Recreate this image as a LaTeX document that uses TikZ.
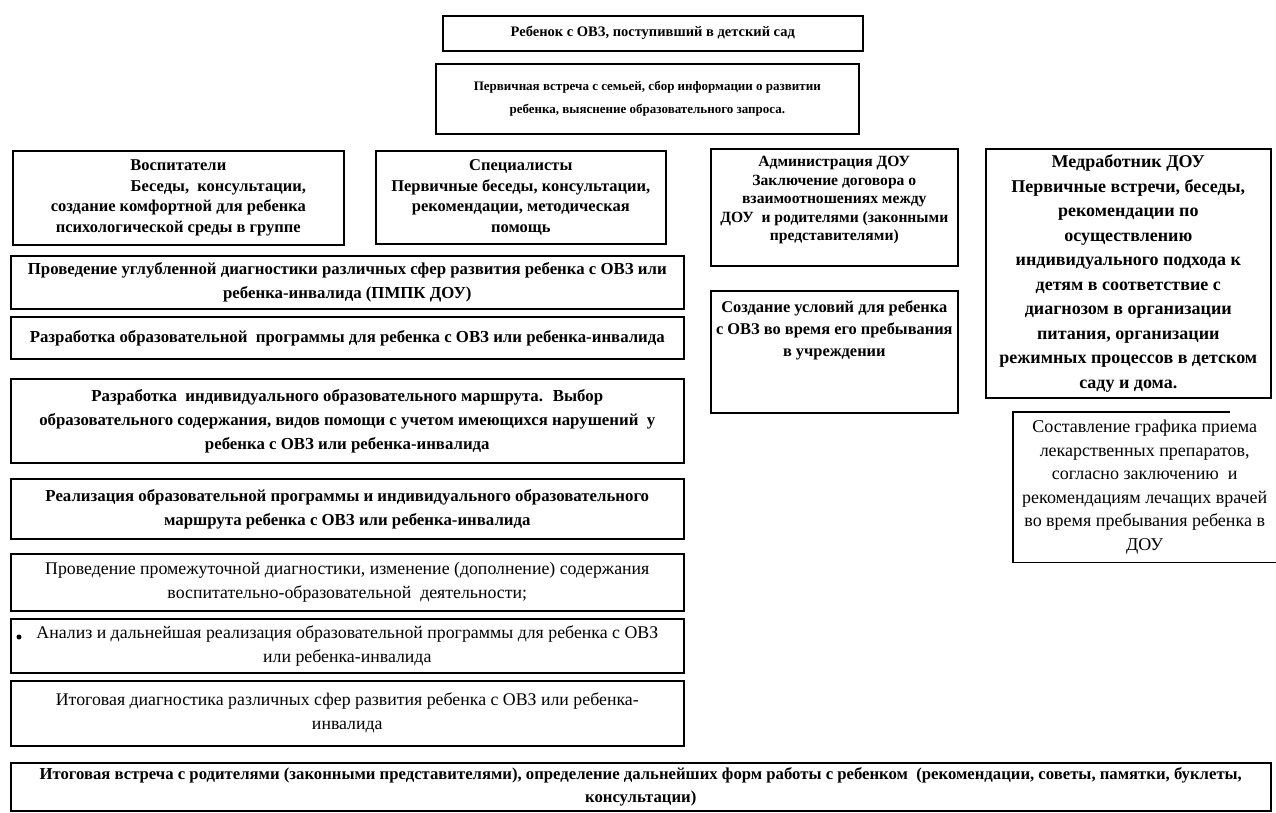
\documentclass[tikz,border=0pt]{standalone}
\usepackage{fontspec}
\setmainfont{Liberation Serif}
\begin{document}
\begin{tikzpicture}[x=1pt,y=-1pt,
  box/.style={draw, line width=1.6pt, inner sep=2pt, align=center, anchor=north west},
  plain/.style={inner sep=0pt, align=center},
  fb1/.style={font=\fontsize{14.5}{23}\selectfont\bfseries},
  fb2/.style={font=\fontsize{13}{23}\selectfont\bfseries},
  fmid/.style={font=\fontsize{16.5}{20.5}\selectfont\bfseries},
  fadm/.style={font=\fontsize{15.6}{18.5}\selectfont\bfseries},
  fmed/.style={font=\fontsize{18}{24.5}\selectfont\bfseries},
  fusl/.style={font=\fontsize{16.4}{22}\selectfont\bfseries},
  fgraf/.style={font=\fontsize{18}{23.5}\selectfont},
  fleft/.style={font=\fontsize{16.8}{24}\selectfont\bfseries},
  fleftr/.style={font=\fontsize{17.8}{24}\selectfont},
  ffin/.style={font=\fontsize{16.7}{23}\selectfont\bfseries},
]
\useasboundingbox (0,0) rectangle (1276,812);

\node[box, fb1, minimum width=420, minimum height=35] (b1) at (442,15)
  {Ребенок с ОВЗ, поступивший в детский сад};
\node[box, fb2, minimum width=423, minimum height=70] (b2) at (435,63)
  {Первичная встреча с семьей, сбор информации о развитии\\ребенка, выяснение образовательного запроса.};

\node[box, fmid, minimum width=331, minimum height=94] (vos) at (12,150)
  {Воспитатели\\\hspace*{80pt}Беседы,~ консультации,\\создание комфортной для ребенка\\психологической среды в группе};
\node[box, fmid, minimum width=290, minimum height=93] (spec) at (375,150)
  {Специалисты\\Первичные беседы, консультации,\\рекомендации, методическая\\помощь};
\node[box, minimum width=247, minimum height=117] (adm) at (710,148) {};
\node[plain, fadm, anchor=north] (admt) at ([yshift=-8pt]adm.north)
  {Администрация ДОУ\\Заключение договора о\\взаимоотношениях между\\ДОУ~ и родителями (законными\\представителями)};
\node[box, fmed, minimum width=285, minimum height=249] (med) at (985,148)
  {Медработник ДОУ\\Первичные встречи, беседы,\\рекомендации по\\осуществлению\\индивидуального подхода к\\детям в соответствие с\\диагнозом в организации\\питания, организации\\режимных процессов в детском\\саду и дома.};
\node[box, minimum width=247, minimum height=122] (usl) at (710,290) {};
\node[plain, fusl, anchor=north] (uslt) at ([yshift=-11pt]usl.north)
  {Создание условий для ребенка\\с ОВЗ во время его пребывания\\в учреждении};

\node[plain, fgraf, anchor=north west, minimum width=263, minimum height=150] (graf) at (1013,412)
  {Составление графика приема\\лекарственных препаратов,\\согласно заключению~ и\\рекомендациям лечащих врачей\\во время пребывания ребенка в\\ДОУ};
\draw[line width=1.2pt] ([xshift=217pt]graf.north west) -- (graf.north west) -- (graf.south west) -- (graf.south east);

\node[box, fleft, minimum width=673, minimum height=53] (l1) at (10,255)
  {Проведение углубленной диагностики различных сфер развития ребенка с ОВЗ или\\ребенка-инвалида (ПМПК ДОУ)};
\node[box, fleft, minimum width=673, minimum height=42] (l2) at (10,316)
  {Разработка образовательной~ программы для ребенка с ОВЗ или ребенка-инвалида};
\node[box, fleft, minimum width=673, minimum height=84] (l3) at (10,378)
  {Разработка~ индивидуального образовательного маршрута.~ Выбор\\образовательного содержания, видов помощи с учетом имеющихся нарушений~ у\\ребенка с ОВЗ или ребенка-инвалида};
\node[box, fleft, minimum width=673, minimum height=60] (l4) at (10,478)
  {Реализация образовательной программы и индивидуального образовательного\\маршрута ребенка с ОВЗ или ребенка-инвалида};
\node[box, fleftr, minimum width=673, minimum height=57] (l5) at (10,553)
  {Проведение промежуточной диагностики, изменение (дополнение) содержания\\воспитательно-образовательной~ деятельности;};
\node[box, fleftr, minimum width=673, minimum height=54] (l6) at (10,618)
  {Анализ и дальнейшая реализация образовательной программы для ребенка с ОВЗ\\или ребенка-инвалида};
\fill ([xshift=9pt,yshift=-19pt]l6.north west) circle (2.5pt);
\node[box, fleftr, minimum width=673, minimum height=65] (l7) at (10,680)
  {Итоговая диагностика различных сфер развития ребенка с ОВЗ или ребенка-\\инвалида};
\node[box, ffin, minimum width=1260, minimum height=48] (fin) at (10,762)
  {Итоговая встреча с родителями (законными представителями), определение дальнейших форм работы с ребенком~ (рекомендации, советы, памятки, буклеты,\\консультации)};
\end{tikzpicture}
\end{document}
